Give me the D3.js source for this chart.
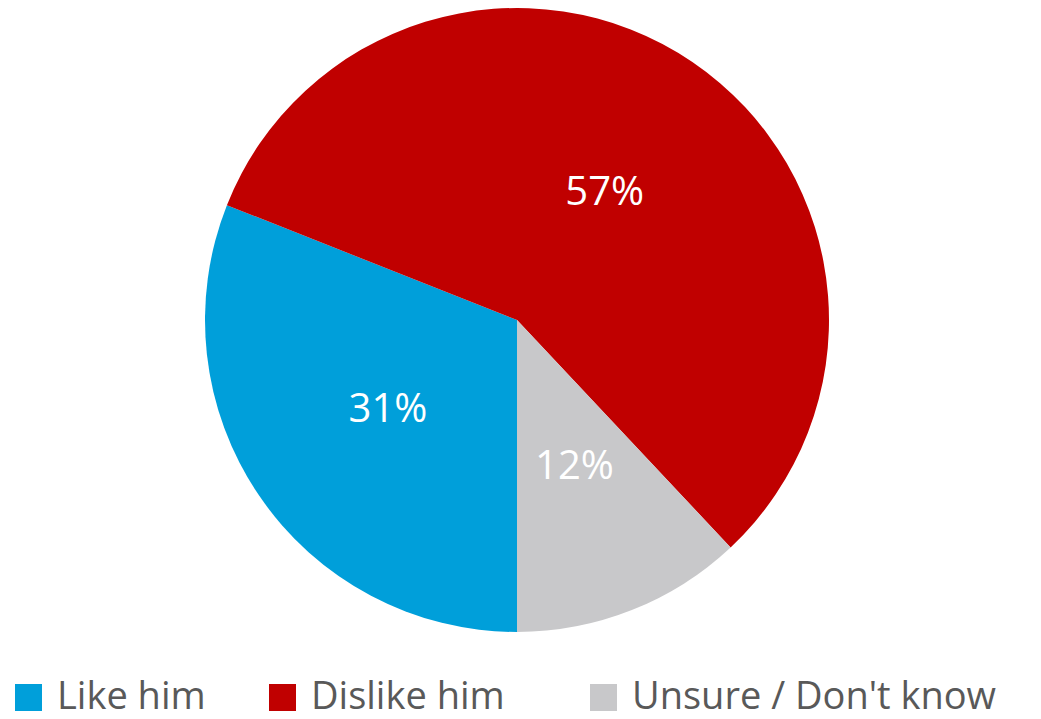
<!DOCTYPE html>
<html>
<head>
<meta charset="utf-8">
<script src="https://cdn.jsdelivr.net/npm/d3@7"></script>
<style>
  html, body { margin: 0; padding: 0; background: #fff; }
  svg { display: block; }
</style>
</head>
<body>
<svg id="chart" width="1041" height="719"></svg>
<script>
const categories = ["Like him", "Dislike him", "Unsure / Don't know"];
const values = [31, 57, 12];
const colors = ["#009FDA", "#C00000", "#C8C8CA"];

const svg = d3.select("#chart");
const cx = 517, cy = 320, R = 312;

const pie = d3.pie().sort(null).value(d => d).startAngle(Math.PI).endAngle(3 * Math.PI);
const arcs = pie(values);
const arc = d3.arc().innerRadius(0).outerRadius(R);
const labelArc = d3.arc().innerRadius(R * 0.5).outerRadius(R * 0.5);

const g = svg.append("g").attr("transform", `translate(${cx},${cy})`);
g.selectAll("path").data(arcs).join("path")
  .attr("d", arc)
  .attr("fill", (d, i) => colors[i]);

g.selectAll("text").data(arcs).join("text")
  .attr("transform", d => `translate(${labelArc.centroid(d)})`)
  .attr("text-anchor", "middle")
  .attr("dy", "0.35em")
  .attr("fill", "#fff")
  .attr("font-family", "'Open Sans', sans-serif")
  .attr("font-size", 40)
  .text(d => d.data + "%");

// Legend
const legendX = [15, 269, 590];
const legend = svg.append("g");
categories.forEach((c, i) => {
  legend.append("rect")
    .attr("x", legendX[i]).attr("y", 684)
    .attr("width", 27).attr("height", 27)
    .attr("fill", colors[i]);
  legend.append("text")
    .attr("x", legendX[i] + 42).attr("y", 709)
    .attr("font-family", "'Open Sans', sans-serif")
    .attr("font-size", 38)
    .attr("fill", "#595959")
    .text(c);
});
</script>
</body>
</html>
